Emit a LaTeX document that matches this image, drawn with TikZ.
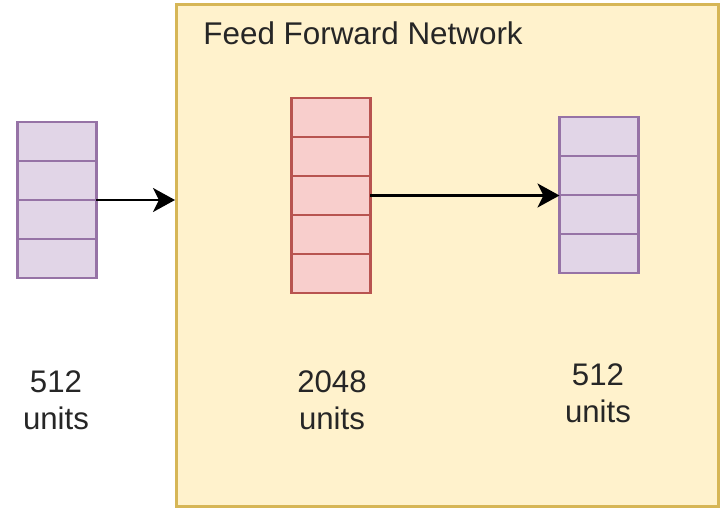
\documentclass[tikz,border=0pt]{standalone}
\usepackage{fontspec}
\setmainfont{Liberation Sans}
\usetikzlibrary{arrows.meta,positioning}
\definecolor{purplefill}{HTML}{E1D5E7}
\definecolor{purpledraw}{HTML}{9673A6}
\definecolor{redfill}{HTML}{F8CECC}
\definecolor{reddraw}{HTML}{B85450}
\definecolor{yellowfill}{HTML}{FFF2CC}
\definecolor{yellowdraw}{HTML}{D6B656}
\begin{document}
\begin{tikzpicture}[x=0.5pt,y=-0.5pt,
  cellbase/.style={rectangle,minimum width=39.5pt,minimum height=19.5pt,inner sep=0pt,outer sep=0pt,line width=1.2pt},
  pcell/.style={cellbase,draw=purpledraw,fill=purplefill},
  rcell/.style={cellbase,draw=reddraw,fill=redfill},
  lbl/.style={font=\fontsize{15.6}{18.5}\selectfont,align=center,inner sep=0pt,text=black!85},
  conn/.style={line width=1.3pt,-{Stealth[length=11pt,width=12pt,inset=3pt]}}
]
\useasboundingbox (0,0) rectangle (720,508);
\fill[white] (0,0) rectangle (720,508);
% Feed forward box
\node[draw=yellowdraw,fill=yellowfill,line width=1.5pt,rectangle,inner sep=0pt,minimum width=271pt,minimum height=251pt,anchor=north west] (ffn) at (175,3) {};
\node[font=\fontsize{15.7}{18.5}\selectfont,anchor=base west,inner sep=0pt,text=black!85] (title) at (203,45) {Feed Forward Network};
% left stack
\node[pcell,anchor=north] (l1) at (57,122) {};
\node[pcell,below=0pt of l1] (l2) {};
\node[pcell,below=0pt of l2] (l3) {};
\node[pcell,below=0pt of l3] (l4) {};
% red stack
\node[rcell,anchor=north] (m1) at (331,98) {};
\node[rcell,below=0pt of m1] (m2) {};
\node[rcell,below=0pt of m2] (m3) {};
\node[rcell,below=0pt of m3] (m4) {};
\node[rcell,below=0pt of m4] (m5) {};
% right stack
\node[pcell,anchor=north] (r1) at (599,117) {};
\node[pcell,below=0pt of r1] (r2) {};
\node[pcell,below=0pt of r2] (r3) {};
\node[pcell,below=0pt of r3] (r4) {};
% labels
\node[lbl,anchor=base] (lt) at (56,430) {512\\units};
\node[lbl,anchor=base] (mt) at (332,430) {2048\\units};
\node[lbl,anchor=base] (rt) at (598,423) {512\\units};
% connectors
\draw[conn] (l2.south east) -- (l2.south east -| ffn.west);
\draw[conn] (m3.east) -- (m3.east -| r3.west);
\end{tikzpicture}
\end{document}
